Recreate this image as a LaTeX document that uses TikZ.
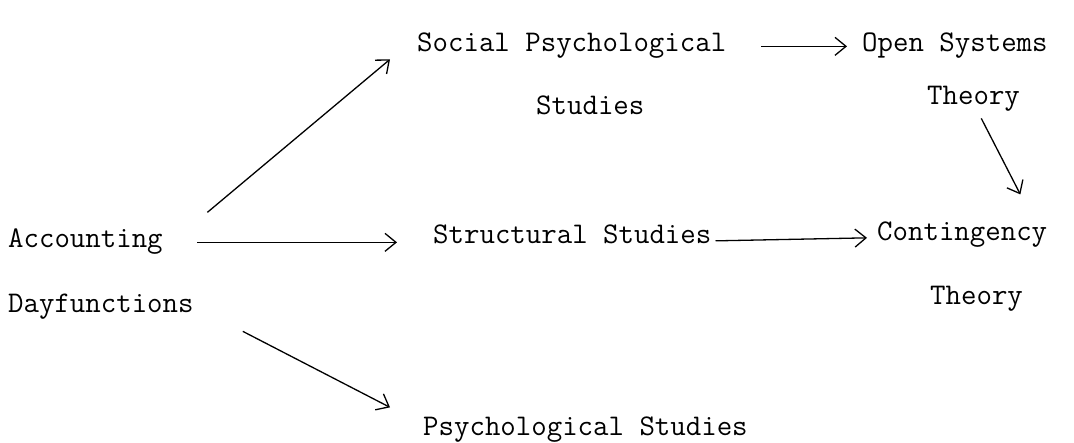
\documentclass[tikz,border=0pt]{standalone}
\usepackage{tikz}
\usetikzlibrary{arrows.meta}
\begin{document}
\begin{tikzpicture}[x=1pt,y=-1pt,
  lbl/.style={anchor=base west,inner sep=0pt,font=\fontsize{30}{36}\selectfont\ttfamily},
  arr/.style={line width=1.3pt,-{Straight Barb[length=11pt,width=18pt,line width=1.3pt]}}]
\useasboundingbox (0,0) rectangle (1074,442);
\node [lbl] (acc) at (8,247) {Accounting};
\node [lbl] (day) at (8,312) {Dayfunctions};
\node [lbl] (soc) at (417,51) {Social Psychological};
\node [lbl] (socb) at (536,114) {Studies};
\node [lbl] (open) at (862,51) {Open Systems};
\node [lbl] (openb) at (927,104) {Theory};
\node [lbl] (str) at (433,243) {Structural Studies};
\node [lbl] (con) at (877,240) {Contingency};
\node [lbl] (conb) at (930,304) {Theory};
\node [lbl] (psy) at (423,435) {Psychological Studies};
\draw [arr] ([xshift=44.5pt,yshift=32.5pt]acc.mid east) -- ([xshift=-27pt,yshift=-10.5pt]soc.mid west);
\draw [arr] ([xshift=34.5pt,yshift=2.5pt]acc.mid east) -- ([xshift=-36pt,yshift=-1.5pt]str.mid west);
\draw [arr] ([xshift=49pt,yshift=-21.5pt]day.mid east) -- ([xshift=-33pt,yshift=25.5pt]psy.mid west);
\draw [arr] ([xshift=35pt,yshift=2.5pt]soc.mid east) -- ([xshift=-15pt,yshift=2.5pt]open.mid west);
\draw [arr] ([xshift=4pt]str.mid east) -- ([xshift=-10pt]con.mid west);
\draw [arr] ([xshift=7.75pt,yshift=-7.4pt]openb.south) -- ([xshift=-27pt,yshift=26.7pt]con.north east);
\end{tikzpicture}
\end{document}
